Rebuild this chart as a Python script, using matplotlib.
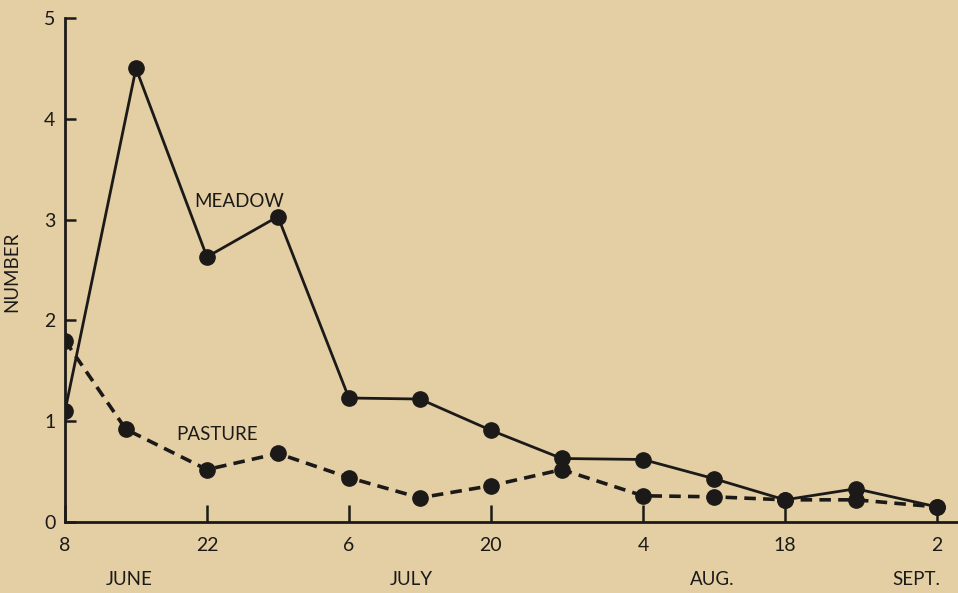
import matplotlib
matplotlib.use("Agg")
import matplotlib.pyplot as plt

# Days since June 8
meadow_days = [0, 7, 14, 21, 28, 35, 42, 49, 57, 64, 71, 78, 86]
meadow_vals = [1.1, 4.5, 2.63, 3.03, 1.23, 1.22, 0.91, 0.63, 0.62, 0.43, 0.22, 0.33, 0.15]
pasture_days = [0, 6, 14, 21, 28, 35, 42, 49, 57, 64, 71, 78, 86]
pasture_vals = [1.8, 0.92, 0.52, 0.68, 0.44, 0.24, 0.36, 0.52, 0.26, 0.25, 0.22, 0.22, 0.15]

tick_days = [0, 14, 28, 42, 57, 71, 86]
tick_labels = ["8", "22", "6", "20", "4", "18", "2"]
month_days = [6.3, 34.2, 63.8, 84.0]
month_labels = ["JUNE", "JULY", "AUG.", "SEPT."]

bg = "#e4cfa4"
ink = "#1c1a18"
plt.rcParams['font.family'] = ['Lato', 'DejaVu Sans']

fig = plt.figure(figsize=(9.58, 5.93), dpi=100, facecolor=bg)
ax = fig.add_axes([65/958, 1-522/593, 1-65/958, (522-18)/593])
ax.set_facecolor(bg)

ax.plot(meadow_days, meadow_vals, color=ink, lw=2.0, marker='o', ms=11,
        mfc=ink, mec=ink, zorder=3)
ax.plot(pasture_days, pasture_vals, color=ink, lw=2.6, ls=(0, (3.2, 2.0)),
        marker='o', ms=11, mfc=ink, mec=ink, zorder=3)

ax.set_xlim(0, (958-65)/((937-65)/86))
ax.set_ylim(0, 5)
for s in ['top', 'right']:
    ax.spines[s].set_visible(False)
for s in ['left', 'bottom']:
    ax.spines[s].set_color(ink)
    ax.spines[s].set_linewidth(2.0)

ax.set_yticks([0, 1, 2, 3, 4, 5])
ax.set_yticklabels(["0", "1", "2", "3", "4", "5"])
ax.tick_params(axis='y', direction='in', length=8, width=1.8, color=ink,
               labelsize=14, labelcolor=ink, pad=7)
ax.set_xticks(tick_days)
ax.set_xticklabels(tick_labels)
ax.tick_params(axis='x', direction='in', length=12, width=1.8, color=ink,
               labelsize=14, labelcolor=ink, pad=11)

ax.set_ylabel("NUMBER", fontsize=13.5, color=ink)
ax.yaxis.set_label_coords(-45/893, (522-272)/504)

for d, lab in zip(month_days, month_labels):
    ax.text(d, -0.57, lab, ha='center', va='center', fontsize=13.5, color=ink,
            clip_on=False)

ax.text(17.2, 3.18, "MEADOW", ha='center', va='center', fontsize=13.5, color=ink)
ax.text(15.0, 0.87, "PASTURE", ha='center', va='center', fontsize=13.5, color=ink)

fig.savefig("out.png", dpi=100, facecolor=bg)
